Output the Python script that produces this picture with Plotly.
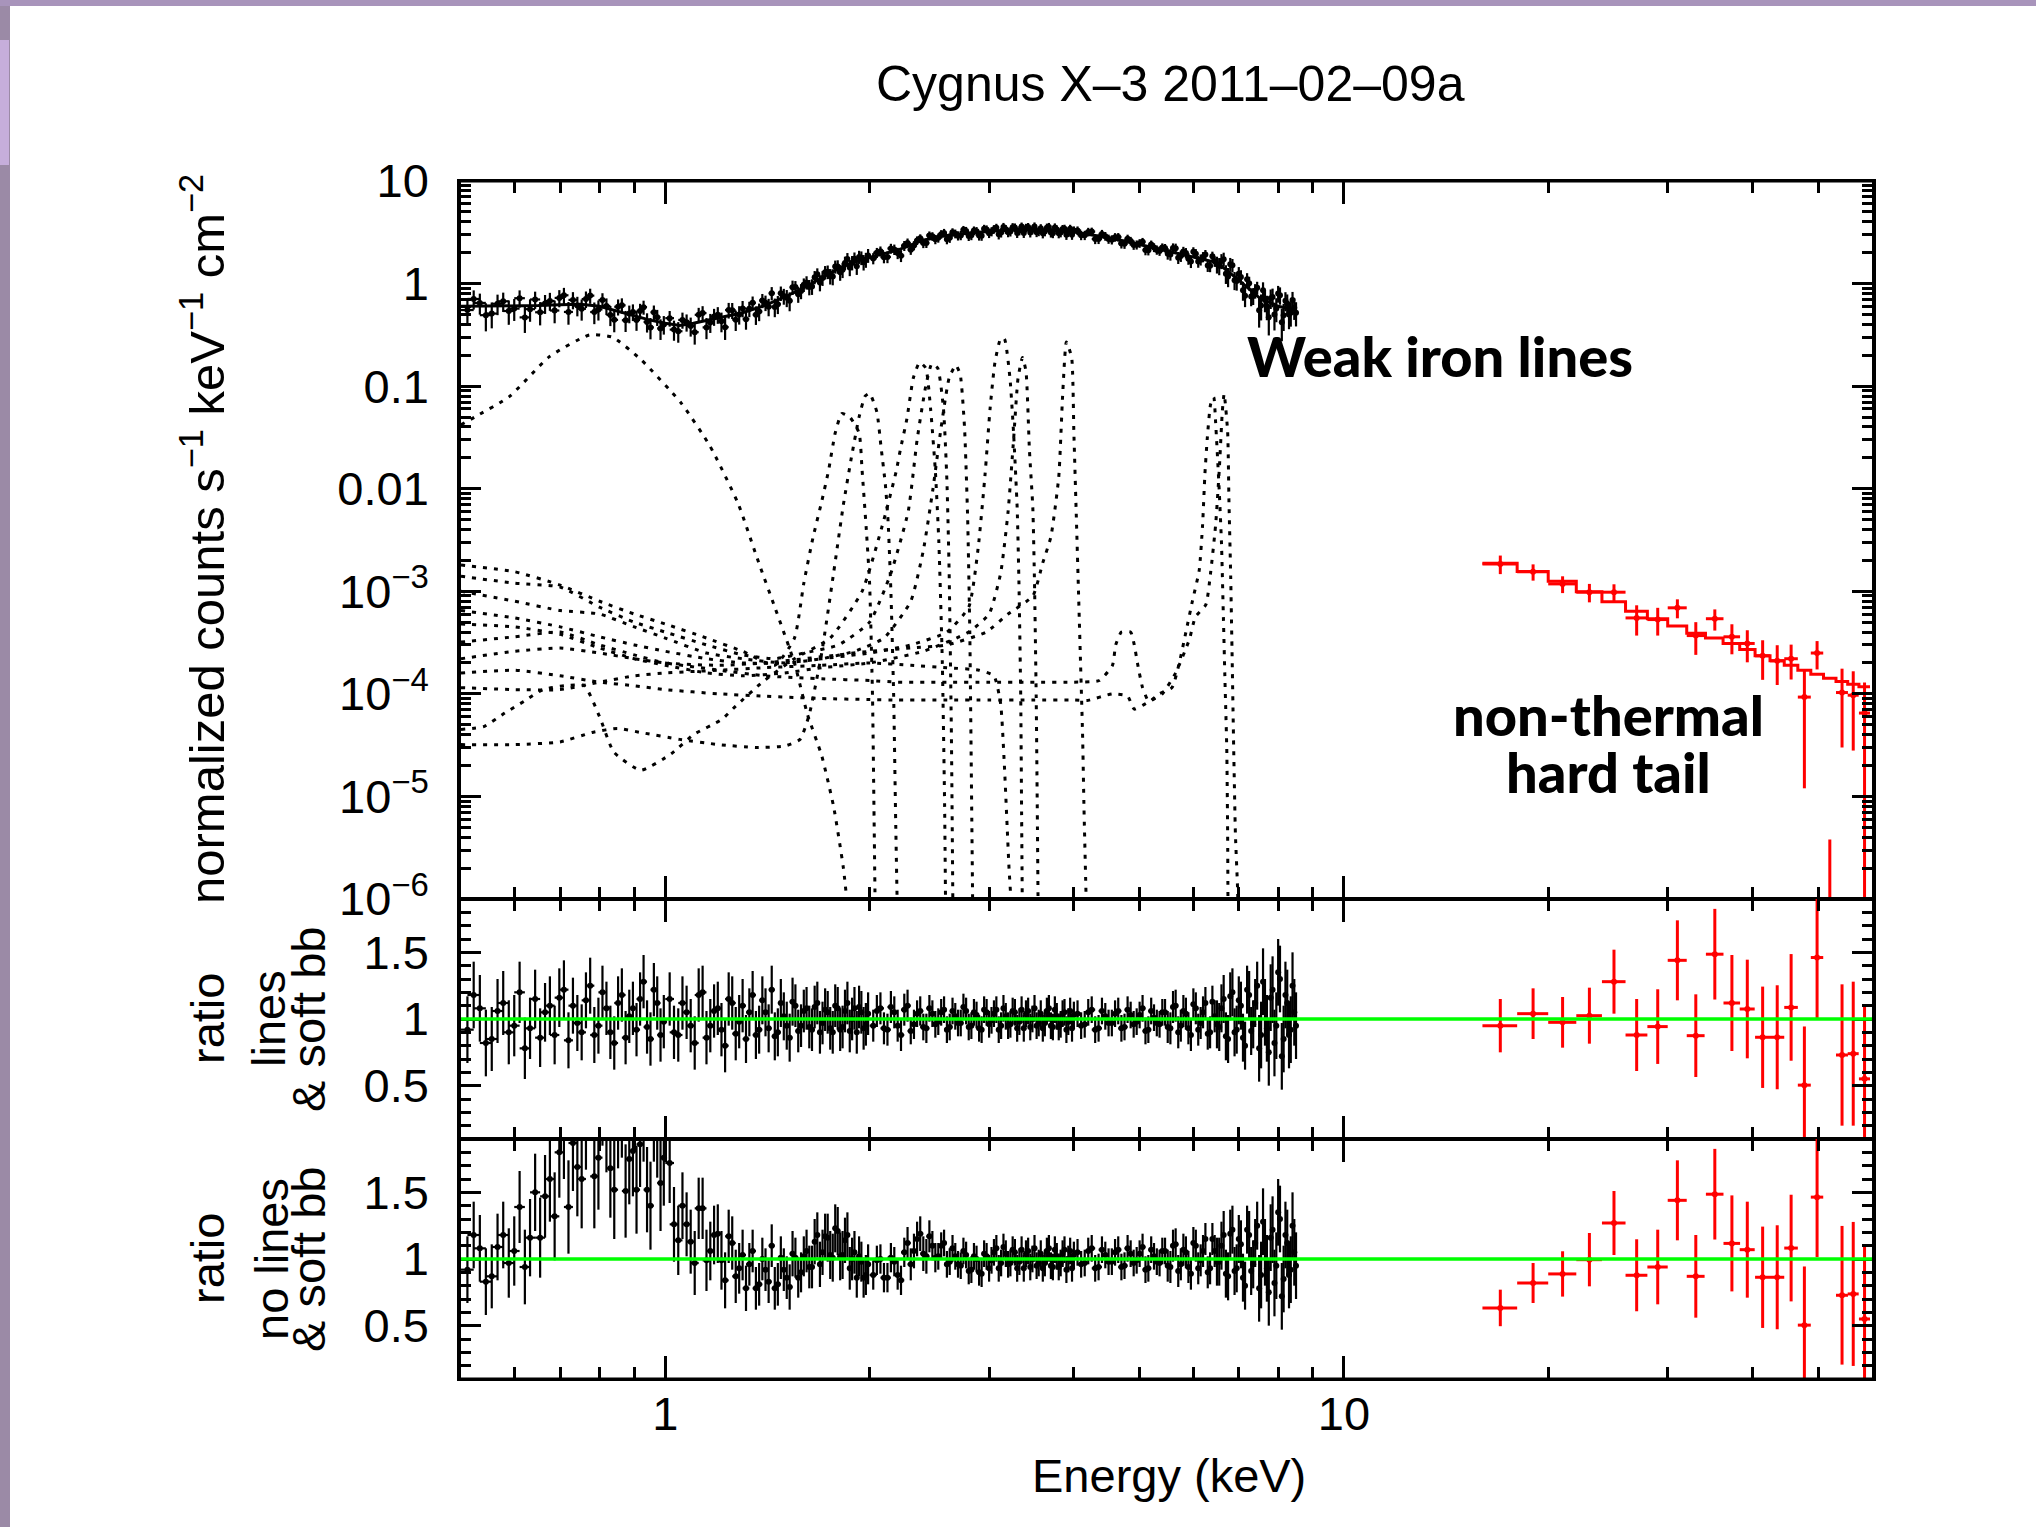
import math
import plotly.graph_objects as go
from plotly.subplots import make_subplots

# ---------------- DATA ----------------
# black (soft X-ray) spectrum, set A: bin centres [keV], half widths, flux and errors
energy = [0.511,0.533,0.555,0.577,0.599,0.621,0.643,0.665,0.687,0.709,0.731,0.753,0.775,0.797,0.819,0.841,0.863,0.885,0.907,0.929,0.951,0.973,0.995,
          1.015,1.045,1.075,1.105,1.135,1.165,1.195,1.225,1.255,1.285,1.315,1.345,1.375,1.405,1.435,1.465,1.495,1.525,1.555,1.585,1.615,1.645,1.675,1.705,1.735,1.765,1.795,1.825,1.855,1.885,1.915,1.945,1.975,
          2.025,2.075,2.125,2.175,2.225,2.275,2.325,2.375,2.425,2.475,2.525,2.575,2.625,2.675,2.725,2.775,2.825,2.875,2.925,2.975,3.025,3.075,3.125,3.175,3.225,3.275,3.325,3.375,3.425,3.475,3.525,3.575,3.625,3.675,3.725,3.775,3.825,3.875,3.925,3.975,
          4.05,4.15,4.25,4.35,4.45,4.55,4.65,4.75,4.85,4.95,5.05,5.15,5.25,5.35,5.45,5.55,5.65,5.75,5.85,5.95,6.05,6.15,6.25,6.35,6.45,6.55,6.65,6.75,6.85,6.95,7.05,7.15,7.25,7.35,7.45,7.55,7.65,7.75,7.85,7.95,8.05,8.15,8.25,8.35,8.45]
energy_halfwidth = [0.011]*23 + [0.015]*33 + [0.025]*40 + [0.05]*45
flux = [0.552,0.648,0.510,0.672,0.570,0.468,0.700,0.640,0.546,0.769,0.693,0.567,0.763,0.560,0.605,0.443,0.614,0.510,0.442,0.589,0.374,0.470,0.400,
        0.460,0.343,0.420,0.336,0.516,0.418,0.497,0.376,0.549,0.500,0.450,0.649,0.534,0.651,0.805,0.630,0.755,0.679,0.924,0.846,1.026,0.938,1.232,1.135,1.302,1.170,1.469,1.363,1.736,1.600,1.476,1.785,1.709,
        1.76,2.07,1.82,2.15,1.87,2.48,2.35,2.76,2.49,2.89,2.79,3.12,2.79,3.06,2.95,3.26,2.96,3.24,2.93,3.37,3.21,3.50,3.14,3.39,3.21,3.52,3.29,3.12,3.56,3.35,3.17,3.46,3.22,3.57,3.10,3.36,3.15,3.42,3.18,2.99,
        3.29,2.96,3.21,2.72,2.90,2.68,2.84,2.44,2.60,2.39,2.55,2.11,2.25,2.08,2.22,1.92,2.21,1.86,1.99,1.64,1.95,1.71,1.92,1.49,1.65,1.49,1.73,1.17,1.51,1.06,1.16,0.76,1.01,0.76,0.91,0.61,0.69,0.47,0.74,0.57,0.77,0.49,0.64,0.52,0.58]
flux_err = [0.150,0.150,0.144,0.144,0.138,0.138,0.134,0.134,0.136,0.139,0.132,0.132,0.128,0.124,0.112,0.108,0.104,0.100,0.096,0.092,0.088,0.084,0.082,
            0.080,0.078,0.080,0.082,0.086,0.088,0.092,0.094,0.098,0.102,0.095,0.099,0.104,0.112,0.119,0.126,0.133,0.142,0.134,0.142,0.152,0.163,0.176,0.187,0.198,0.208,0.218,0.232,0.248,0.256,0.262,0.272,0.285,
            0.22,0.23,0.24,0.25,0.25,0.27,0.245,0.26,0.268,0.278,0.285,0.292,0.297,0.30,0.304,0.308,0.312,0.315,0.318,0.321,0.324,0.327,0.33,0.332,0.334,0.335,0.336,0.336,0.336,0.335,0.334,0.333,0.332,0.331,0.33,0.329,0.328,0.326,0.324,0.321,
            0.316,0.308,0.300,0.292,0.284,0.276,0.268,0.260,0.252,0.244,0.236,0.229,0.223,0.217,0.211,0.247,0.241,0.235,0.229,0.223,0.217,0.211,0.205,0.199,0.194,0.284,0.270,0.248,0.227,0.207,0.189,0.171,0.155,0.142,0.131,0.173,0.165,0.158,0.153,0.150,0.148,0.145,0.143,0.140,0.138]
ratio_lines = [0.92,1.08,0.85,1.12,0.95,0.78,1.15,1.05,0.88,1.22,1.10,0.90,1.25,0.95,1.08,0.82,1.18,1.02,0.92,1.28,0.85,1.12,0.98,
               1.15,0.88,1.05,0.82,1.20,0.95,1.08,0.80,1.12,0.98,0.85,1.18,0.92,1.05,1.22,0.90,1.02,0.86,1.10,0.95,1.08,0.92,1.12,0.97,1.05,0.90,1.08,0.94,1.12,1.00,0.90,1.05,0.96,
               0.95,1.08,0.92,1.05,0.88,1.10,0.96,1.06,0.93,1.04,0.98,1.07,0.94,1.02,0.97,1.06,0.95,1.03,0.92,1.05,0.99,1.07,0.95,1.02,0.96,1.05,0.98,0.93,1.06,1.00,0.95,1.04,0.97,1.08,0.94,1.02,0.96,1.05,0.98,0.93,
               1.04,0.96,1.07,0.93,1.02,0.97,1.06,0.94,1.03,0.98,1.08,0.92,1.01,0.96,1.05,0.93,1.10,0.95,1.04,0.88,1.08,0.97,1.12,0.90,1.02,0.94,1.15,0.85,1.20,0.92,1.10,0.80,1.18,0.96,1.25,0.88,1.05,0.75,1.22,0.95,1.30,0.85,1.12,0.92,1.05]
err_lines = [0.25,0.25,0.24,0.24,0.23,0.23,0.22,0.22,0.22,0.22,0.21,0.21,0.21,0.21,0.20,0.20,0.20,0.20,0.20,0.20,0.20,0.20,0.20,
             0.20,0.20,0.20,0.20,0.20,0.20,0.20,0.20,0.20,0.20,0.18,0.18,0.18,0.18,0.18,0.18,0.18,0.18,0.16,0.16,0.16,0.16,0.16,0.16,0.16,0.16,0.16,0.16,0.16,0.16,0.16,0.16,0.16,
             0.12,0.12,0.12,0.12,0.12,0.12,0.11,0.11,0.11,0.10,0.10,0.10,0.10,0.10,0.10,0.10,0.10,0.10,0.10,0.10,0.10,0.10,0.10,0.10,0.10,0.10,0.10,0.10,0.10,0.10,0.10,0.10,0.10,0.10,0.10,0.10,0.10,0.10,0.10,0.10,
             0.10,0.10,0.10,0.10,0.10,0.10,0.10,0.10,0.10,0.10,0.10,0.10,0.10,0.10,0.10,0.12,0.12,0.12,0.12,0.12,0.12,0.12,0.12,0.12,0.12,0.18,0.18,0.18,0.18,0.18,0.18,0.18,0.18,0.18,0.18,0.25,0.25,0.25,0.25,0.25,0.25,0.25,0.25,0.25,0.25]
ratio_nolines = [0.92,1.08,0.87,1.18,1.06,0.94,1.50,1.47,1.32,1.95,1.87,1.60,2.28,1.76,2.03,1.52,2.12,1.75,1.52,2.05,1.40,1.96,1.76,
                 1.72,1.14,1.26,0.97,1.38,1.06,1.19,0.84,1.12,0.93,0.78,1.06,0.81,0.92,1.10,0.81,0.92,0.79,1.01,0.90,1.06,0.94,1.18,1.05,1.16,1.01,1.21,1.03,1.18,1.00,0.86,0.98,0.88,
                 0.88,1.00,0.86,0.98,0.84,1.12,1.06,1.19,1.02,1.10,1.02,1.12,0.98,1.02,0.95,1.03,0.92,1.00,0.89,1.02,0.99,1.08,0.97,1.04,0.97,1.05,0.98,0.93,1.06,1.00,0.95,1.04,0.97,1.08,0.94,1.02,0.97,1.07,1.00,0.93,
                 1.05,0.97,1.08,0.94,1.03,0.98,1.07,0.95,1.04,0.99,1.09,0.93,1.02,0.97,1.06,0.94,1.11,0.96,1.05,0.89,1.10,0.99,1.15,0.93,1.06,0.98,1.18,0.87,1.22,0.93,1.11,0.80,1.18,0.96,1.25,0.88,1.05,0.75,1.22,0.95,1.30,0.85,1.12,0.92,1.05]
err_nolines = [0.25,0.25,0.24,0.25,0.26,0.28,0.29,0.31,0.33,0.35,0.36,0.37,0.38,0.39,0.38,0.37,0.36,0.34,0.33,0.32,0.33,0.35,0.36,
               0.30,0.26,0.24,0.24,0.23,0.22,0.22,0.21,0.20,0.19,0.17,0.16,0.16,0.16,0.16,0.16,0.16,0.17,0.15,0.15,0.16,0.16,0.17,0.17,0.18,0.18,0.18,0.18,0.17,0.16,0.15,0.15,0.15,
               0.11,0.11,0.11,0.11,0.11,0.12,0.13,0.13,0.13,0.11,0.10,0.10,0.10,0.10,0.10,0.10,0.10,0.10,0.10,0.10,0.10,0.10,0.10,0.10,0.10,0.10,0.10,0.10,0.10,0.10,0.10,0.10,0.10,0.10,0.10,0.10,0.10,0.10,0.10,0.10,
               0.10,0.10,0.10,0.10,0.10,0.10,0.10,0.10,0.10,0.10,0.10,0.10,0.10,0.10,0.10,0.12,0.12,0.12,0.12,0.12,0.12,0.12,0.12,0.12,0.12,0.18,0.18,0.18,0.18,0.18,0.18,0.18,0.18,0.18,0.18,0.25,0.25,0.25,0.25,0.25,0.25,0.25,0.25,0.25,0.25]

# black spectrum, set B (interleaved bins)
energy_b = [0.522,0.544,0.566,0.588,0.610,0.632,0.654,0.676,0.698,0.720,0.742,0.764,0.786,0.808,0.830,0.852,0.874,0.896,0.918,0.940,0.962,0.984,
            1.03,1.06,1.09,1.12,1.15,1.18,1.21,1.24,1.27,1.30,1.33,1.36,1.39,1.42,1.45,1.48,1.51,1.54,1.57,1.60,1.63,1.66,1.69,1.72,1.75,1.78,1.81,1.84,1.87,1.90,1.93,1.96,1.99,
            2.05,2.10,2.15,2.20,2.25,2.30,2.35,2.40,2.45,2.50,2.55,2.60,2.65,2.70,2.75,2.80,2.85,2.90,2.95,3.00,3.05,3.10,3.15,3.20,3.25,3.30,3.35,3.40,3.45,3.50,3.55,3.60,3.65,3.70,3.75,3.80,3.85,3.90,3.95,4.00,
            4.10,4.20,4.30,4.40,4.50,4.60,4.70,4.80,4.90,5.00,5.10,5.20,5.30,5.40,5.50,5.60,5.70,5.80,5.90,6.00,6.10,6.20,6.30,6.40,6.50,6.60,6.70,6.80,6.90,7.00,7.10,7.20,7.30,7.40,7.50,7.60,7.70,7.80,7.90,8.00,8.10,8.20,8.30,8.40,8.50]
energy_halfwidth_b = [0.011]*22 + [0.015]*33 + [0.025]*40 + [0.05]*45
flux_b = [0.708,0.492,0.636,0.540,0.720,0.563,0.525,0.677,0.725,0.529,0.611,0.707,0.528,0.690,0.495,0.594,0.439,0.529,0.541,0.423,0.525,0.365,
          0.356,0.442,0.385,0.496,0.374,0.477,0.428,0.552,0.445,0.572,0.567,0.497,0.684,0.595,0.592,0.806,0.727,0.921,0.787,0.975,0.926,1.155,1.022,1.289,1.181,1.463,1.288,1.590,1.433,1.750,1.820,1.618,1.882,
          2.00,1.81,2.20,1.98,2.34,2.14,2.63,2.48,2.95,2.70,3.03,2.71,3.16,2.93,3.34,2.91,3.29,2.94,3.42,3.10,3.39,3.02,3.57,3.16,3.55,3.12,3.60,3.49,3.15,3.61,3.23,3.09,3.51,3.14,3.53,3.09,3.40,2.99,3.42,3.29,
          2.96,3.19,2.72,3.05,2.72,2.83,2.46,2.74,2.38,2.47,2.12,2.40,2.13,2.25,1.96,2.22,1.79,2.05,1.75,2.04,1.64,1.82,1.50,1.85,1.54,1.66,1.25,1.54,1.08,1.25,0.86,1.10,0.75,0.85,0.55,0.86,0.60,0.72,0.50,0.80,0.42,0.68,0.50,0.69,0.52]
flux_err_b = [0.150,0.150,0.144,0.144,0.138,0.139,0.134,0.135,0.138,0.132,0.132,0.130,0.126,0.115,0.110,0.106,0.102,0.098,0.094,0.090,0.086,0.083,
              0.079,0.079,0.081,0.084,0.087,0.090,0.093,0.096,0.100,0.104,0.097,0.102,0.108,0.115,0.122,0.130,0.138,0.147,0.138,0.147,0.158,0.170,0.182,0.193,0.203,0.213,0.224,0.240,0.252,0.259,0.267,0.278,0.290,
              0.226,0.234,0.242,0.250,0.262,0.235,0.253,0.264,0.273,0.282,0.289,0.295,0.299,0.302,0.306,0.310,0.314,0.317,0.320,0.323,0.326,0.329,0.331,0.333,0.335,0.336,0.336,0.336,0.336,0.335,0.334,0.333,0.332,0.331,0.330,0.329,0.327,0.325,0.323,0.319,
              0.312,0.304,0.296,0.288,0.280,0.272,0.264,0.256,0.248,0.240,0.233,0.226,0.220,0.214,0.250,0.244,0.238,0.232,0.226,0.220,0.214,0.208,0.202,0.197,0.288,0.277,0.259,0.238,0.217,0.198,0.180,0.163,0.149,0.137,0.178,0.169,0.161,0.155,0.151,0.149,0.146,0.144,0.141,0.139,0.138]
ratio_lines_b = [1.18,0.82,1.06,0.90,1.20,0.93,0.86,1.10,1.16,0.84,0.97,1.14,0.88,1.20,0.90,1.12,0.86,1.08,1.15,0.94,1.22,0.88,
                 0.90,1.12,0.95,1.18,0.86,1.06,0.92,1.15,0.89,1.10,1.05,0.88,1.14,0.93,0.87,1.12,0.95,1.13,0.91,1.06,0.94,1.09,0.90,1.07,0.93,1.10,0.92,1.06,0.91,1.08,1.09,0.93,1.04,
                 1.06,0.93,1.09,0.95,1.07,0.91,1.04,0.94,1.08,0.96,1.05,0.92,1.06,0.97,1.09,0.94,1.05,0.93,1.07,0.96,1.04,0.92,1.08,0.95,1.06,0.93,1.07,1.04,0.94,1.08,0.97,0.93,1.06,0.95,1.07,0.94,1.04,0.92,1.06,1.03,
                 0.95,1.05,0.92,1.06,0.97,1.04,0.93,1.07,0.96,1.03,0.91,1.06,0.97,1.05,0.94,1.09,0.90,1.06,0.93,1.11,0.92,1.05,0.89,1.13,0.96,1.08,0.87,1.17,0.90,1.14,0.86,1.22,0.91,1.12,0.78,1.28,0.93,1.16,0.82,1.35,0.72,1.18,0.88,1.25,0.95]
err_lines_b = [0.25,0.25,0.24,0.24,0.23,0.23,0.22,0.22,0.22,0.21,0.21,0.21,0.21,0.20,0.20,0.20,0.20,0.20,0.20,0.20,0.20,0.20,
               0.20,0.20,0.20,0.20,0.20,0.20,0.20,0.20,0.20,0.20,0.18,0.18,0.18,0.18,0.18,0.18,0.18,0.18,0.16,0.16,0.16,0.16,0.16,0.16,0.16,0.16,0.16,0.16,0.16,0.16,0.16,0.16,0.16,
               0.12,0.12,0.12,0.12,0.12,0.10,0.10,0.10,0.10,0.10,0.10,0.10,0.10,0.10,0.10,0.10,0.10,0.10,0.10,0.10,0.10,0.10,0.10,0.10,0.10,0.10,0.10,0.10,0.10,0.10,0.10,0.10,0.10,0.10,0.10,0.10,0.10,0.10,0.10,0.10,
               0.10,0.10,0.10,0.10,0.10,0.10,0.10,0.10,0.10,0.10,0.10,0.10,0.10,0.10,0.12,0.12,0.12,0.12,0.12,0.12,0.12,0.12,0.12,0.12,0.18,0.18,0.18,0.18,0.18,0.18,0.18,0.18,0.18,0.18,0.25,0.25,0.25,0.25,0.25,0.25,0.25,0.25,0.25,0.25,0.25]
ratio_nolines_b = [1.18,0.83,1.09,0.97,1.39,1.16,1.16,1.60,1.80,1.39,1.69,2.05,1.62,2.24,1.68,2.05,1.51,1.81,1.86,1.52,2.07,1.57,
                   1.26,1.40,1.13,1.38,0.99,1.18,0.99,1.17,0.87,1.03,0.96,0.78,1.00,0.83,0.78,1.01,0.86,1.04,0.86,1.02,0.94,1.13,0.96,1.17,1.03,1.23,1.02,1.14,0.93,1.05,1.02,0.86,0.96,
                   0.99,0.86,1.01,0.88,1.05,0.96,1.15,1.04,1.17,1.01,1.10,0.96,1.08,0.96,1.06,0.91,1.02,0.90,1.04,0.93,1.05,0.93,1.09,0.96,1.07,0.93,1.07,1.04,0.94,1.08,0.97,0.93,1.06,0.95,1.07,0.94,1.04,0.92,1.06,1.03,
                   0.96,1.06,0.93,1.07,0.98,1.05,0.94,1.08,0.97,1.04,0.92,1.07,0.98,1.06,0.95,1.10,0.91,1.07,0.94,1.12,0.93,1.06,0.90,1.15,0.98,1.10,0.89,1.19,0.91,1.15,0.86,1.22,0.91,1.12,0.78,1.28,0.93,1.16,0.82,1.35,0.72,1.18,0.88,1.25,0.95]
err_nolines_b = [0.25,0.25,0.25,0.26,0.27,0.29,0.30,0.32,0.34,0.35,0.37,0.38,0.39,0.39,0.37,0.37,0.35,0.34,0.32,0.32,0.34,0.36,
                 0.28,0.25,0.24,0.23,0.23,0.22,0.22,0.20,0.20,0.19,0.16,0.16,0.16,0.16,0.16,0.16,0.16,0.17,0.15,0.15,0.16,0.17,0.17,0.17,0.18,0.18,0.18,0.17,0.16,0.16,0.15,0.15,0.15,
                 0.11,0.11,0.11,0.11,0.11,0.12,0.13,0.13,0.12,0.11,0.10,0.10,0.10,0.10,0.10,0.10,0.10,0.10,0.10,0.10,0.10,0.10,0.10,0.10,0.10,0.10,0.10,0.10,0.10,0.10,0.10,0.10,0.10,0.10,0.10,0.10,0.10,0.10,0.10,0.10,
                 0.10,0.10,0.10,0.10,0.10,0.10,0.10,0.10,0.10,0.10,0.10,0.10,0.10,0.10,0.12,0.12,0.12,0.12,0.12,0.12,0.12,0.12,0.12,0.12,0.18,0.18,0.18,0.18,0.18,0.18,0.18,0.18,0.18,0.18,0.25,0.25,0.25,0.25,0.25,0.25,0.25,0.25,0.25,0.25,0.25]

# total folded model (black solid line)
model_E = [0.5,0.55,0.6,0.65,0.7,0.75,0.8,0.85,0.9,0.95,1.0,1.05,1.1,1.2,1.3,1.4,1.5,1.6,1.7,1.8,1.9,2.0,2.2,2.4,2.6,2.8,3.0,3.3,3.6,4.0,4.5,5.0,5.5,6.0,6.5,7.0,7.5,8.0,8.5]
model_V = [0.60,0.60,0.60,0.61,0.62,0.63,0.60,0.54,0.49,0.44,0.41,0.39,0.41,0.46,0.52,0.61,0.74,0.91,1.14,1.40,1.62,1.80,2.12,2.65,2.95,3.10,3.23,3.35,3.32,3.18,2.80,2.40,2.08,1.81,1.60,1.08,0.73,0.60,0.55]

# model components (dotted)
bb_E = [0.5,0.524,0.589,0.675,0.773,0.836,0.922,1.056,1.164,1.28,1.373,1.45,1.55,1.62,1.70,1.77,1.83,1.87]
bb_V = [0.042,0.05,0.079,0.194,0.316,0.30,0.18,0.068,0.026,0.0072,0.0019,7e-4,2e-4,6.3e-5,2.5e-5,8e-6,2e-6,5e-7]
ln1_E = [0.5,0.6,0.7,0.8,0.9,1.0,1.15,1.3,1.45,1.55,1.6,1.65,1.7,1.74,1.78,1.82,1.87,1.93,1.95,1.98,2.0,2.02,2.03,2.04]
ln1_V = [1.8e-3,1.55e-3,1.15e-3,8e-4,6e-4,4.8e-4,3.5e-4,2.6e-4,1.9e-4,3.5e-4,1.2e-3,3.3e-3,7.5e-3,0.015,0.035,0.054,0.05,0.035,0.015,3.6e-3,1.2e-3,9.5e-5,7.5e-6,5e-7]
ln2_E = [0.5,0.6,0.7,0.78,0.85,0.92,1.05,1.2,1.36,1.5,1.58,1.63,1.7,1.77,1.83,1.88,1.93,1.97,2.0,2.05,2.08,2.11,2.13,2.15,2.17,2.185,2.2]
ln2_V = [3.2e-5,3.2e-5,3.4e-5,4.2e-5,4.6e-5,4.2e-5,3.6e-5,3.2e-5,3.0e-5,3.1e-5,3.6e-5,6.3e-5,2.5e-4,1.5e-3,7e-3,0.02,0.05,0.08,0.085,0.056,0.025,0.011,4.7e-3,1e-3,1e-4,6e-6,5e-7]
ln3_E = [0.5,0.54,0.58,0.62,0.66,0.71,0.76,0.8,0.84,0.92,1.02,1.1,1.21,1.27,1.39,1.55,1.75,1.95,2.1,2.19,2.22,2.27,2.32,2.37,2.42,2.46,2.5,2.53,2.56,2.58,2.59]
ln3_V = [4.5e-5,4.8e-5,6.5e-5,8.5e-5,1.1e-4,1.2e-4,1.2e-4,6e-5,2.7e-5,1.8e-5,2.6e-5,4e-5,5.6e-5,7.6e-5,1.3e-4,2.2e-4,3.5e-4,1e-3,5e-3,0.015,0.024,0.048,0.12,0.17,0.15,0.06,0.015,3e-3,2e-4,8e-6,5e-7]
ln4_E = [0.5,0.6,0.7,0.8,0.9,1.0,1.15,1.3,1.45,1.6,1.8,2.0,2.15,2.28,2.35,2.42,2.47,2.52,2.57,2.6,2.62,2.64,2.655]
ln4_V = [1.4e-3,1.2e-3,1.1e-3,7e-4,5e-4,4e-4,3e-4,2.4e-4,2.2e-4,2.5e-4,3e-4,5e-4,1.5e-3,6e-3,0.03,0.1,0.165,0.15,0.06,0.012,1.5e-3,4e-5,5e-7]
ln5_E = [0.5,0.6,0.7,0.8,0.9,1.0,1.15,1.3,1.5,1.7,1.9,2.1,2.3,2.4,2.48,2.55,2.62,2.68,2.72,2.76,2.79,2.81,2.83,2.84]
ln5_V = [1.0e-3,8e-4,6.5e-4,6e-4,4.5e-4,3.5e-4,2.5e-4,2.2e-4,2e-4,2.2e-4,2.6e-4,3.5e-4,8e-4,2.5e-3,0.01,0.04,0.12,0.16,0.13,0.04,5e-3,4e-4,5e-6,5e-7]
ln6_E = [0.5,0.6,0.7,0.8,0.9,1.0,1.15,1.3,1.5,1.7,2.0,2.3,2.6,2.8,2.89,2.96,3.01,3.06,3.12,3.16,3.22,3.26,3.3,3.32,3.34,3.35,3.36]
ln6_V = [6.5e-4,5.5e-4,4.5e-4,3.6e-4,3e-4,2.6e-4,2.2e-4,2e-4,2e-4,2.2e-4,2.5e-4,3e-4,4e-4,7e-4,2.6e-3,0.014,0.06,0.17,0.29,0.29,0.12,0.035,6.5e-3,1.2e-3,9.5e-5,7e-6,5e-7]
ln7_E = [0.5,0.6,0.7,0.8,0.9,1.0,1.15,1.3,1.5,1.7,2.0,2.4,2.8,3.0,3.12,3.2,3.26,3.31,3.36,3.4,3.44,3.48,3.5,3.52,3.535,3.545]
ln7_V = [4.8e-4,4.5e-4,3.8e-4,2.8e-4,2.2e-4,1.9e-4,1.6e-4,1.5e-4,1.6e-4,1.8e-4,2e-4,2.6e-4,4e-4,6e-4,1.5e-3,6e-3,0.03,0.12,0.19,0.14,0.024,6.5e-3,1.2e-3,9.5e-5,5e-6,5e-7]
ln8_E = [0.5,0.6,0.7,0.8,0.9,1.0,1.2,1.4,1.7,2.0,2.3,2.6,2.97,3.2,3.48,3.6,3.7,3.8,3.85,3.9,3.97,4.0,4.03,4.06,4.09,4.12,4.14,4.17,4.18]
ln8_V = [3.2e-4,3.6e-4,4e-4,3e-4,2.4e-4,2e-4,1.9e-4,2e-4,2.3e-4,2.6e-4,2.8e-4,3e-4,4e-4,6e-4,9e-4,1.9e-3,3.4e-3,0.013,0.08,0.27,0.19,0.035,6.5e-3,1.2e-3,2.2e-4,4e-5,7.5e-6,1e-6,5e-7]
ln9_E = [0.5,0.6,0.7,0.8,0.9,1.0,1.2,1.4,1.7,2.0,2.3,2.6,2.9,3.05,3.12,3.16,3.19,3.21,3.23,3.24]
ln9_V = [1.15e-4,1.1e-4,1.1e-4,1.3e-4,1.5e-4,1.6e-4,1.7e-4,1.8e-4,1.9e-4,2e-4,1.9e-4,1.8e-4,1.7e-4,1.5e-4,8e-5,2e-5,5e-6,2e-6,1e-6,5e-7]
fe1_E = [0.5,0.6,0.7,0.8,0.9,1.0,1.2,1.4,1.7,2.0,2.2,2.6,3.0,3.5,4.0,4.36,4.56,4.61,4.70,4.85,4.91,4.97,5.05,5.16,5.34,5.58,5.72,5.85,5.98,6.12,6.19,6.24,6.29,6.36,6.43,6.47,6.55,6.6,6.64,6.68,6.72,6.74,6.75]
fe1_V = [2.2e-4,2.6e-4,2.8e-4,2.5e-4,2.2e-4,2e-4,1.7e-4,1.5e-4,1.4e-4,1.35e-4,1.3e-4,1.3e-4,1.3e-4,1.3e-4,1.3e-4,1.35e-4,1.9e-4,3e-4,4e-4,4e-4,3e-4,1.9e-4,1.15e-4,8.4e-5,1e-4,1.15e-4,2e-4,4e-4,8e-4,1.6e-3,4.4e-3,0.014,0.031,0.066,0.078,0.045,9.6e-3,3e-3,6.4e-4,1.3e-4,2.9e-5,4.3e-6,5e-7]
fe2_E = [0.5,0.6,0.7,0.8,0.9,1.0,1.2,1.4,1.7,2.0,2.2,2.6,3.0,3.5,4.0,4.18,4.56,4.8,4.91,5.16,5.4,5.65,5.92,6.04,6.26,6.36,6.47,6.55,6.62,6.66,6.74,6.77,6.81,6.84,6.88,6.92,6.97,6.99]
fe2_V = [1.6e-4,1.7e-4,1.5e-4,1.3e-4,1.2e-4,1.1e-4,1e-4,9.5e-5,9e-5,8.8e-5,8.7e-5,8.7e-5,8.7e-5,8.7e-5,8.7e-5,8.6e-5,1e-4,9.5e-5,7.1e-5,8.4e-5,1e-4,1.6e-4,3.4e-4,5.6e-4,7.4e-4,1.5e-3,4.4e-3,0.015,0.057,0.084,0.036,7.6e-3,1.4e-3,2.8e-4,2.9e-5,4.3e-6,1.3e-6,5e-7]

# red (hard X-ray) spectrum
red_E = [17.0,19.0,21.0,23.0,25.0,27.0,29.0,31.0,33.0,35.2,37.3,39.3,41.4,43.5,45.6,47.7,49.8,52.0,54.2,56.3,58.5]
red_halfwidth = [1.0,1.0,1.0,1.0,1.0,1.0,1.0,1.0,1.0,1.05,1.05,1.0,1.05,1.05,1.05,1.05,1.05,1.1,1.1,1.05,1.1]
red_flux = [1.85e-3,1.55e-3,1.18e-3,9.8e-4,9.8e-4,5.5e-4,5.3e-4,6.9e-4,3.7e-4,5.4e-4,3.6e-4,3.1e-4,2.35e-4,2.1e-4,2.2e-4,9.3e-5,2.5e-4,8e-7,1.03e-4,9.7e-5,6.5e-5]
red_flux_err = [3.8e-4,2.8e-4,2.2e-4,2.0e-4,1.9e-4,1.8e-4,1.6e-4,1.45e-4,1.3e-4,1.26e-4,1.17e-4,1.07e-4,9.8e-5,8.8e-5,8.2e-5,8.1e-5,7.7e-5,3.0e-6,7.3e-5,6.9e-5,6.4e-5]
red_edges = [16.0,18.0,20.0,22.0,24.0,26.0,28.0,30.0,32.0,34.1,36.2,38.3,40.35,42.45,44.55,46.65,48.75,50.9,53.1,55.25,57.4,59.6]
red_model = [1.88e-3,1.56e-3,1.25e-3,9.9e-4,7.9e-4,6.4e-4,5.4e-4,4.6e-4,3.9e-4,3.5e-4,3.1e-4,2.7e-4,2.35e-4,2.1e-4,1.9e-4,1.7e-4,1.55e-4,1.42e-4,1.32e-4,1.24e-4,1.17e-4]
red_ratio_lines = [0.95,1.04,0.975,1.025,1.28,0.88,0.943,1.44,0.875,1.486,1.12,1.075,0.863,0.863,1.087,0.504,1.461,0.005,0.73,0.74,0.551]
red_err_lines = [0.20,0.19,0.19,0.21,0.24,0.27,0.28,0.30,0.31,0.34,0.36,0.37,0.38,0.39,0.40,0.44,0.46,0.02,0.53,0.54,0.55]
red_ratio_nolines = [0.633,0.82,0.888,0.995,1.27,0.878,0.94,1.44,0.87,1.486,1.117,1.07,0.863,0.863,1.082,0.504,1.464,0.005,0.728,0.738,0.55]
red_err_nolines = [0.137,0.15,0.17,0.20,0.24,0.27,0.28,0.30,0.31,0.34,0.36,0.36,0.38,0.39,0.40,0.44,0.45,0.02,0.52,0.54,0.55]

# axis ticks
x_major = [1, 10]
x_minor = [0.6,0.7,0.8,0.9,2,3,4,5,6,7,8,9,20,30,40,50]
y_major = [1e-6,1e-5,1e-4,1e-3,1e-2,1e-1,1,10]
y_major_text = ["10<sup>\u22126</sup>","10<sup>\u22125</sup>","10<sup>\u22124</sup>","10<sup>\u22123</sup>","0.01","0.1","1","10"]
r_major = [0.5, 1, 1.5]
r_major_text = ["0.5", "1", "1.5"]

# ---------------- FIGURE ----------------
W, H = 2036, 1527
L, R, T, B = 461, 164, 181, 148
PW, PH = W - L - R, H - T - B
def px(x):  # pixel -> paper x
    return (x - L) / PW
def py(y):  # pixel -> paper y
    return (H - B - y) / PH

FONT = "Liberation Sans, Arial, sans-serif"
fig = make_subplots(rows=3, cols=1, shared_xaxes=True, vertical_spacing=0)

components = [(bb_E, bb_V), (ln1_E, ln1_V), (ln2_E, ln2_V), (ln3_E, ln3_V), (ln4_E, ln4_V),
              (ln5_E, ln5_V), (ln6_E, ln6_V), (ln7_E, ln7_V), (ln8_E, ln8_V), (ln9_E, ln9_V),
              (fe1_E, fe1_V), (fe2_E, fe2_V)]
for cx, cy in components:
    fig.add_trace(go.Scatter(x=cx, y=cy, mode="lines",
                             line=dict(color="black", width=3, dash="4px,7px", shape="spline", smoothing=0.5),
                             hoverinfo="skip", showlegend=False), row=1, col=1)

fig.add_trace(go.Scatter(x=model_E, y=model_V, mode="lines", line=dict(color="black", width=3),
                         hoverinfo="skip", showlegend=False), row=1, col=1)

def errtrace(x, y, ex, ey, color, th):
    return go.Scatter(x=x, y=y, mode="markers", marker=dict(size=0, color=color),
                      error_x=dict(type="data", array=ex, color=color, thickness=th, width=0),
                      error_y=dict(type="data", array=ey, color=color, thickness=th, width=0),
                      hoverinfo="skip", showlegend=False)

BT = 2.2
fig.add_trace(errtrace(energy, flux, energy_halfwidth, flux_err, "black", BT), row=1, col=1)
fig.add_trace(errtrace(energy_b, flux_b, energy_halfwidth_b, flux_err_b, "black", BT), row=1, col=1)
fig.add_trace(go.Scatter(x=red_edges, y=red_model + [red_model[-1]], mode="lines",
                         line=dict(color="#ff0000", width=3, shape="hv"), hoverinfo="skip",
                         showlegend=False), row=1, col=1)
fig.add_trace(errtrace(red_E, red_flux, red_halfwidth, red_flux_err, "#ff0000", 3), row=1, col=1)

fig.add_trace(errtrace(energy, ratio_lines, energy_halfwidth, err_lines, "black", BT), row=2, col=1)
fig.add_trace(errtrace(energy_b, ratio_lines_b, energy_halfwidth_b, err_lines_b, "black", BT), row=2, col=1)
fig.add_trace(errtrace(red_E, red_ratio_lines, red_halfwidth, red_err_lines, "#ff0000", 3), row=2, col=1)
fig.add_trace(errtrace(energy, ratio_nolines, energy_halfwidth, err_nolines, "black", BT), row=3, col=1)
fig.add_trace(errtrace(energy_b, ratio_nolines_b, energy_halfwidth_b, err_nolines_b, "black", BT), row=3, col=1)
fig.add_trace(errtrace(red_E, red_ratio_nolines, red_halfwidth, red_err_nolines, "#ff0000", 3), row=3, col=1)

for r in (2, 3):
    fig.add_hline(y=1, line=dict(color="#00ff00", width=3.5), row=r, col=1)

common = dict(showline=True, linecolor="black", mirror="allticks",
              ticks="inside", tickcolor="black", showgrid=False, zeroline=False)
for r in (1, 2, 3):
    fig.update_xaxes(type="log", range=[math.log10(0.5), math.log10(60)], linewidth=2,
                     tickvals=x_major, ticktext=["1", "10"], ticklen=23, tickwidth=3,
                     showticklabels=(r == 3), ticklabelstandoff=-7,
                     minor=dict(tickvals=x_minor, ticks="inside", ticklen=12, tickwidth=2.5, tickcolor="black"),
                     tickfont=dict(family=FONT, size=47, color="black"),
                     row=r, col=1, **common)

y_minor = [m * 10.0 ** k for k in range(-6, 1) for m in range(2, 10)]
fig.update_yaxes(type="log", range=[-6, 1], tickvals=y_major, ticktext=y_major_text, linewidth=3.5,
                 ticklen=20, tickwidth=3, ticklabelstandoff=19,
                 minor=dict(tickvals=y_minor, ticks="inside", ticklen=10, tickwidth=2.5, tickcolor="black"),
                 tickfont=dict(family=FONT, size=47, color="black"), row=1, col=1, **common)
for r in (2, 3):
    fig.update_yaxes(range=[0.1, 1.9], tickvals=r_major, ticktext=r_major_text, linewidth=3.5,
                     ticklen=20, tickwidth=3, ticklabelstandoff=19,
                     minor=dict(dtick=0.1, tick0=0, ticks="inside", ticklen=10, tickwidth=2.5, tickcolor="black"),
                     tickfont=dict(family=FONT, size=47, color="black"), row=r, col=1, **common)

fig.update_layout(
    width=W, height=H, margin=dict(l=L, r=R, t=T, b=B),
    paper_bgcolor="white", plot_bgcolor="white", showlegend=False,
    font=dict(family=FONT, size=47, color="black"),
    yaxis=dict(domain=[py(899), 1.0]),
    yaxis2=dict(domain=[py(1139), py(899)]),
    yaxis3=dict(domain=[0.0, py(1139)]),
)

# outer top / bottom frame lines
for yy in (0.0, 1.0):
    fig.add_shape(type="line", xref="paper", yref="paper", x0=0, x1=1, y0=yy, y1=yy,
                  line=dict(color="black", width=3))

def ann(text, x, y, size=47, angle=0, family=FONT, weight=None):
    f = dict(family=family, size=size, color="black")
    if weight:
        f["weight"] = weight
    fig.add_annotation(text=text, xref="paper", yref="paper", x=px(x), y=py(y),
                       xanchor="center", yanchor="middle", showarrow=False, textangle=angle, font=f)

ann("Cygnus X\u20133 2011\u201302\u201309a", 1170, 84, size=50)
ann("Energy (keV)", 1169, 1476)
ann("normalized counts s<sup>\u22121</sup> keV<sup>\u22121</sup> cm<sup>\u22122</sup>", 203, 539, size=49, angle=-90)
ann("ratio", 207, 1019, angle=-90)
ann("lines", 268, 1019, angle=-90)
ann("& soft bb", 308, 1019, angle=-90)
ann("ratio", 207, 1259, angle=-90)
ann("no lines", 271, 1259, angle=-90)
ann("& soft bb", 308, 1259, angle=-90)

BOLD = "Lato, sans-serif"
for txt, x, y in [("Weak iron lines", 1440, 355), ("non-thermal", 1608, 714), ("hard tail", 1608, 771)]:
    ann(txt, x, y, size=56, family=BOLD, weight=900)

# slide frame (purple border on the left and top)
fig.add_shape(type="rect", xref="paper", yref="paper", x0=px(0), x1=px(10), y0=py(H), y1=py(0),
              fillcolor="#9b8aa6", line=dict(width=0), layer="below")
fig.add_shape(type="rect", xref="paper", yref="paper", x0=px(0), x1=px(W), y0=py(6), y1=py(0),
              fillcolor="#a894bb", line=dict(width=0), layer="below")
fig.add_shape(type="rect", xref="paper", yref="paper", x0=px(0), x1=px(9), y0=py(165), y1=py(40),
              fillcolor="#c6aedb", line=dict(width=0), layer="below")

fig.write_html("out.html", config={"displayModeBar": False},
               post_script="document.body.style.margin='0';document.body.style.overflow='hidden';")
